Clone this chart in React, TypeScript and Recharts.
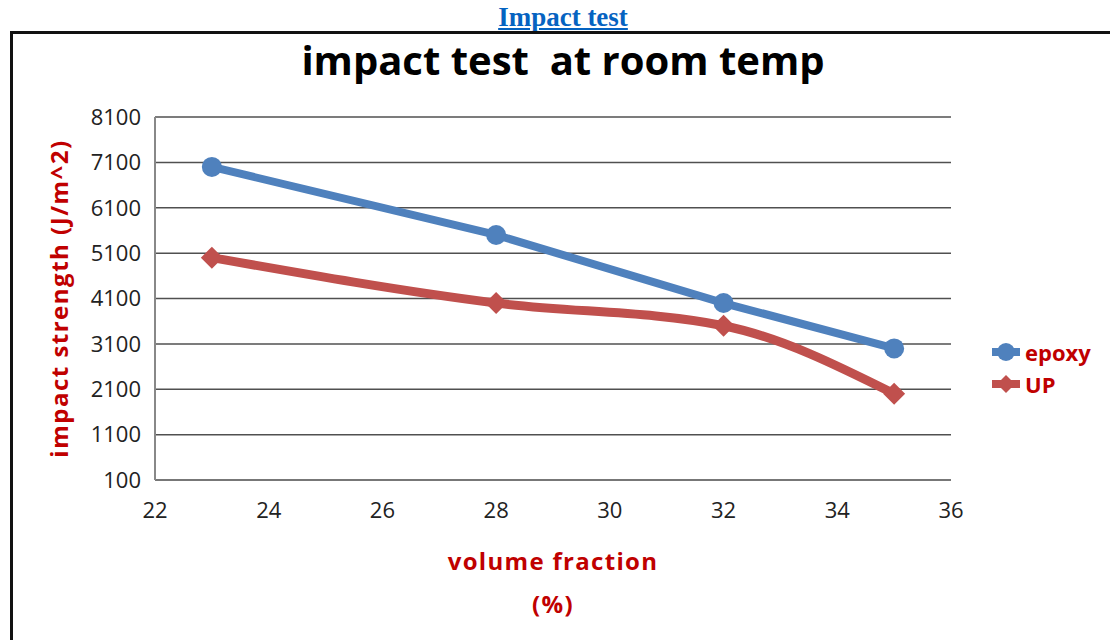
import React from "react";
import {
  LineChart,
  Line,
  XAxis,
  YAxis,
  CartesianGrid,
  Label,
} from "recharts";

// values
const VOLUME_FRACTION = [23, 28, 32, 35];
const EPOXY = [7000, 5500, 4000, 3000];
const UP = [5000, 4000, 3500, 2000];
const X_TICKS = [22, 24, 26, 28, 30, 32, 34, 36];
const Y_TICKS = [100, 1100, 2100, 3100, 4100, 5100, 6100, 7100, 8100];

const BLUE = "#4f81bd";
const RED = "#c0504d";
const LABEL_RED = "#c00000";
const FONT = "'Open Sans', 'Noto Sans', sans-serif";

const data = VOLUME_FRACTION.map((x, i) => ({ x, epoxy: EPOXY[i], up: UP[i] }));

function Diamond(props: { cx?: number; cy?: number; size?: number; fill?: string }) {
  const { cx, cy, size = 11, fill = RED } = props;
  if (cx == null || cy == null) return null;
  return (
    <path
      d={`M${cx},${cy - size} L${cx + size},${cy} L${cx},${cy + size} L${cx - size},${cy} Z`}
      fill={fill}
    />
  );
}

function LegendRow({ kind, text }: { kind: "circle" | "diamond"; text: string }) {
  return (
    <div style={{ display: "flex", alignItems: "center", height: 32 }}>
      <svg width={28} height={24} style={{ marginRight: 5 }}>
        <line x1={0} y1={12} x2={28} y2={12} stroke={kind === "circle" ? BLUE : RED} strokeWidth={8} />
        {kind === "circle" ? (
          <circle cx={14} cy={12} r={9} fill={BLUE} />
        ) : (
          <Diamond cx={14} cy={12} size={9} fill={RED} />
        )}
      </svg>
      <span style={{ color: LABEL_RED, fontWeight: 700, fontSize: 22, fontFamily: FONT }}>{text}</span>
    </div>
  );
}

export default function App() {
  return (
    <div
      style={{
        position: "relative",
        width: 1110,
        height: 640,
        overflow: "hidden",
        background: "#fff",
      }}
    >
      <style>{"body{margin:0 !important;overflow:hidden}"}</style>

      <div
        style={{
          position: "absolute",
          top: 0,
          left: 0,
          width: 1126,
          textAlign: "center",
          fontFamily: "'Liberation Serif', serif",
          fontWeight: 700,
          fontSize: 27,
          lineHeight: "34px",
        }}
      >
        <a href="#" style={{ color: "#0563c1", textDecoration: "underline" }}>
          Impact test
        </a>
      </div>

      <div
        style={{
          position: "absolute",
          left: 10,
          top: 31,
          width: 1200,
          height: 700,
          borderLeft: "3px solid #111",
          borderTop: "3px solid #111",
        }}
      />

      <div
        style={{
          position: "absolute",
          top: 32,
          left: 0,
          width: 1126,
          textAlign: "center",
          fontFamily: FONT,
          fontWeight: 700,
          fontSize: 40,
          color: "#000",
          whiteSpace: "pre",
        }}
      >
        {"impact test  at room temp"}
      </div>

      <div style={{ position: "absolute", left: 0, top: 0 }}>
        <LineChart
          width={1110}
          height={640}
          data={data}
          margin={{ top: 117, right: 159, left: 35, bottom: 130 }}
        >
          <CartesianGrid vertical={false} stroke="#505050" strokeWidth={1.5} />
          <XAxis
            dataKey="x"
            type="number"
            domain={[22, 36]}
            ticks={X_TICKS}
            height={30}
            tickSize={0}
            tickMargin={22}
            axisLine={{ stroke: "#777", strokeWidth: 2 }}
            tick={{ fill: "#222", fontSize: 22, fontFamily: FONT }}
          />
          <YAxis
            type="number"
            domain={[100, 8100]}
            ticks={Y_TICKS}
            width={120}
            tickSize={0}
            tickMargin={14}
            interval={0}
            axisLine={{ stroke: "#888", strokeWidth: 2 }}
            tick={{ fill: "#222", fontSize: 22, fontFamily: FONT }}
          >
            <Label
              value="impact strength (J/m^2)"
              angle={-90}
              position="insideLeft"
              offset={24}
              style={{
                textAnchor: "middle",
                fill: LABEL_RED,
                fontWeight: 700,
                fontSize: 24,
                letterSpacing: 1.5,
                fontFamily: FONT,
              }}
            />
          </YAxis>
          <Line
            type="linear"
            dataKey="epoxy"
            stroke={BLUE}
            strokeWidth={8}
            dot={{ r: 10, fill: BLUE, stroke: "none" }}
            activeDot={false}
            isAnimationActive={false}
          />
          <Line
            type="monotone"
            dataKey="up"
            stroke={RED}
            strokeWidth={9}
            dot={(p: any) => <Diamond key={p.index} cx={p.cx} cy={p.cy} size={11} fill={RED} />}
            activeDot={false}
            isAnimationActive={false}
          />
        </LineChart>
      </div>

      <div
        style={{
          position: "absolute",
          left: 0,
          width: 1106,
          top: 539,
          textAlign: "center",
          color: LABEL_RED,
          fontWeight: 700,
          fontSize: 24,
          letterSpacing: 1.3,
          fontFamily: FONT,
          lineHeight: "43px",
        }}
      >
        <div>volume fraction</div>
        <div>(%)</div>
      </div>

      <div style={{ position: "absolute", left: 992, top: 336 }}>
        <LegendRow kind="circle" text="epoxy" />
        <LegendRow kind="diamond" text="UP" />
      </div>
    </div>
  );
}
